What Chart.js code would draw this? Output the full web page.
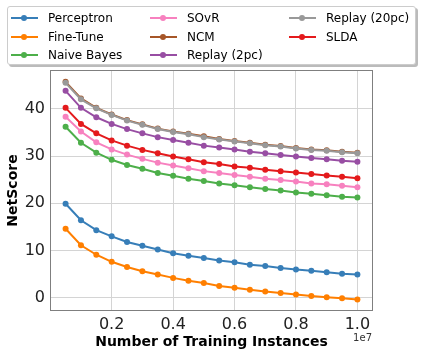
<!DOCTYPE html>
<html>
<head>
<meta charset="utf-8">
<script src="https://cdn.jsdelivr.net/npm/chart.js@4.4.1/dist/chart.umd.min.js"></script>
<style>
  html, body { margin: 0; padding: 0; background: #fff; }
  #wrap { position: relative; width: 423px; height: 357px; font-family: "DejaVu Sans", sans-serif; }
  #myChart { position: absolute; left: 0; top: 0; }
  #legend {
    position: absolute; left: 7px; top: 6px; width: 409px; height: 59px;
    border: 1px solid #ccc; border-radius: 3px; background: #fff;
    box-shadow: 2px 2px 0 #bbb; box-sizing: border-box;
  }
  .item { position: absolute; height: 18px; font-size: 12px; color: #000; line-height: 18px; white-space: nowrap; }
  .item .ln { position: absolute; left: 0; top: 8px; width: 27px; height: 2px; }
  .item .dt { position: absolute; left: 10px; top: 6px; width: 6px; height: 6px; border-radius: 50%; }
  .item .tx { position: absolute; left: 37px; top: 0; }
</style>
</head>
<body>
<div id="wrap">
  <canvas id="myChart" width="423" height="357"></canvas>
  <div id="legend"></div>
</div>
<script>
    // training instances (x) and NetScore per method
    const instances = [0.5e6, 1e6, 1.5e6, 2e6, 2.5e6, 3e6, 3.5e6, 4e6, 4.5e6, 5e6,
                       5.5e6, 6e6, 6.5e6, 7e6, 7.5e6, 8e6, 8.5e6, 9e6, 9.5e6, 1e7]

    const perceptron = [19.9, 16.4, 14.3, 13.0, 11.8, 11.0, 10.2, 9.4, 8.9, 8.4,
                        7.9, 7.5, 7.0, 6.7, 6.3, 6.0, 5.7, 5.4, 5.1, 4.9]
    const fineTune = [14.6, 11.1, 9.1, 7.6, 6.5, 5.6, 4.9, 4.2, 3.6, 3.1,
                      2.5, 2.1, 1.7, 1.3, 1.0, 0.7, 0.35, 0.1, -0.1, -0.4]
    const naiveBayes = [36.2, 32.8, 30.7, 29.2, 28.1, 27.3, 26.4, 25.8, 25.2, 24.7,
                        24.2, 23.8, 23.4, 23.0, 22.7, 22.3, 22.0, 21.7, 21.4, 21.2]
    const sovr = [38.3, 35.2, 32.9, 31.4, 30.3, 29.4, 28.6, 28.0, 27.4, 26.8,
                  26.4, 26.0, 25.6, 25.2, 24.9, 24.6, 24.2, 24.0, 23.7, 23.4]
    const ncm = [45.7, 42.2, 40.2, 38.8, 37.6, 36.7, 35.8, 35.2, 34.7, 34.2,
                 33.6, 33.2, 32.8, 32.4, 32.1, 31.7, 31.4, 31.2, 30.9, 30.7]
    const replay2 = [43.8, 40.2, 38.2, 36.8, 35.7, 34.8, 34.0, 33.4, 32.8, 32.2,
                     31.8, 31.4, 30.9, 30.6, 30.2, 29.9, 29.6, 29.3, 29.0, 28.8]
    const replay20 = [45.5, 42.0, 40.1, 38.7, 37.5, 36.6, 35.7, 35.1, 34.6, 34.0,
                      33.5, 33.1, 32.7, 32.3, 32.0, 31.6, 31.3, 31.1, 30.8, 30.6]
    const slda = [40.2, 36.8, 34.8, 33.3, 32.2, 31.3, 30.6, 29.9, 29.3, 28.7,
                  28.3, 27.8, 27.5, 27.1, 26.8, 26.5, 26.2, 25.9, 25.6, 25.3]

    const xTicks = [2e6, 4e6, 6e6, 8e6, 1e7]
    const yTicks = [0, 10, 20, 30, 40]

    const series = [
        {label: 'Perceptron', values: perceptron, color: '#377eb8'},
        {label: 'Fine-Tune', values: fineTune, color: '#ff7f00'},
        {label: 'Naive Bayes', values: naiveBayes, color: '#4daf4a'},
        {label: 'SOvR', values: sovr, color: '#f781bf'},
        {label: 'NCM', values: ncm, color: '#a65628'},
        {label: 'Replay (2pc)', values: replay2, color: '#984ea3'},
        {label: 'Replay (20pc)', values: replay20, color: '#999999'},
        {label: 'SLDA', values: slda, color: '#e41a1c'},
    ]

    const datasets = series.map(function(s, i){
        return {
            label: s.label,
            data: instances.map(function(x, j){ return {x: x, y: s.values[j]} }),
            borderColor: s.color,
            backgroundColor: s.color,
            borderWidth: 2,
            pointRadius: 3,
            pointHoverRadius: 3,
            pointBorderWidth: 0,
            order: series.length - i,
        }
    })

    // legend laid out column-first like the original
    const legend = document.getElementById('legend')
    series.forEach(function(s, i){
        const col = Math.floor(i / 3), row = i % 3
        const it = document.createElement('div')
        it.className = 'item'
        it.style.left = (3 + col * 139) + 'px'
        it.style.top = (2 + row * 18.5) + 'px'
        it.innerHTML = '<div class="ln" style="background:' + s.color + '"></div>' +
                       '<div class="dt" style="background:' + s.color + '"></div>' +
                       '<div class="tx">' + s.label + '</div>'
        legend.appendChild(it)
    })

    const frame = {
        id: 'frame',
        afterDraw: function(chart){
            const a = chart.chartArea, ctx = chart.ctx
            ctx.save()
            ctx.strokeStyle = '#7f7f7f'
            ctx.lineWidth = 1
            ctx.strokeRect(a.left - 0.5, a.top - 0.5, a.right - a.left + 1, a.bottom - a.top + 1)
            ctx.fillStyle = '#333'
            ctx.font = '10px "DejaVu Sans"'
            ctx.textAlign = 'right'
            ctx.textBaseline = 'middle'
            ctx.fillText('1e7', a.right, 338)
            ctx.restore()
        }
    }

    const config = {
        type: 'line',
        data: {datasets: datasets},
        options: {
            responsive: false,
            animation: false,
            layout: {padding: {left: 0, top: 71, right: 51, bottom: 0}},
            plugins: {legend: {display: false}, tooltip: {enabled: false}},
            scales: {
                x: {
                    type: 'linear',
                    min: 25000, max: 10475000,
                    afterBuildTicks: function(s){ s.ticks = xTicks.map(function(v){ return {value: v} }) },
                    afterFit: function(s){ s.height = 47 },
                    grid: {color: '#d4d4d4', tickLength: 0},
                    border: {display: false},
                    ticks: {
                        color: '#222', padding: 5, maxRotation: 0,
                        font: {family: 'DejaVu Sans', size: 16},
                        callback: function(v){ return (v / 1e7).toFixed(1) }
                    },
                    title: {
                        display: true, text: 'Number of Training Instances', color: '#000',
                        font: {family: 'DejaVu Sans', size: 14, weight: 'bold'},
                        padding: {top: 0, bottom: 6}
                    }
                },
                y: {
                    min: -2.6, max: 48.0,
                    afterBuildTicks: function(s){ s.ticks = yTicks.map(function(v){ return {value: v} }) },
                    afterFit: function(s){ s.width = 51 },
                    grid: {color: '#d4d4d4', tickLength: 0},
                    border: {display: false},
                    ticks: {
                        color: '#222', padding: 6,
                        font: {family: 'DejaVu Sans', size: 16}
                    },
                    title: {
                        display: true, text: 'NetScore', color: '#000',
                        font: {family: 'DejaVu Sans', size: 14, weight: 'bold'},
                        padding: {top: 5, bottom: 0}
                    }
                }
            }
        },
        plugins: [frame]
    }

    const myChart = new Chart(document.getElementById('myChart'), config)
</script>
</body>
</html>
